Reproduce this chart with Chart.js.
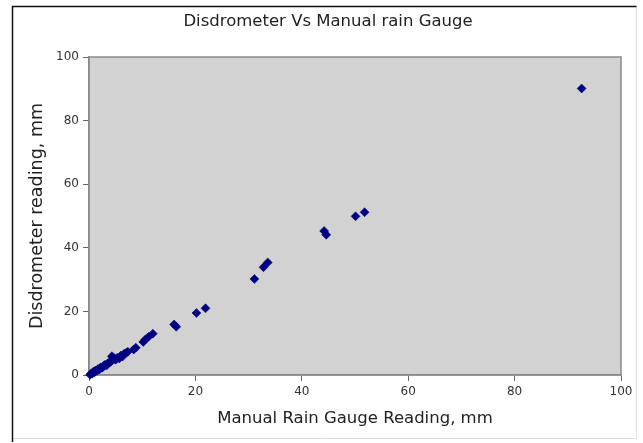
<!DOCTYPE html>
<html>
<head>
<meta charset="utf-8">
<script src="https://cdn.jsdelivr.net/npm/chart.js@4/dist/chart.umd.min.js"></script>
<style>
  html, body { margin: 0; padding: 0; background: #ffffff; }
  #wrap { width: 643px; height: 443px; position: relative; }
</style>
</head>
<body>
<div id="wrap"><canvas id="c" width="643" height="443"></canvas></div>
<script>
// Manual rain gauge readings (mm) and matching disdrometer readings (mm)
const manualGauge = [0.2, 0.4, 0.6, 0.8, 1.0, 1.2, 1.5, 1.7, 2.0, 2.2,
  2.5, 2.8, 3.0, 3.3, 3.6, 3.9, 4.2, 4.3, 4.6, 5.0,
  5.3, 5.7, 6.0, 6.3, 6.6, 7.0, 7.3, 8.4, 8.8, 10.2,
  10.6, 11.2, 12.0, 16.0, 16.4, 20.2, 21.9, 31.1, 32.8, 33.6,
  44.2, 44.6, 50.1, 51.8, 92.6];
const disdrometer = [0.1, 0.5, 0.4, 1.0, 0.8, 1.4, 1.3, 1.9, 1.8, 2.4,
  2.3, 2.9, 3.2, 3.0, 3.8, 4.0, 4.3, 5.9, 5.5, 4.8,
  5.4, 5.2, 6.1, 5.8, 6.7, 7.0, 7.3, 8.0, 8.6, 10.4,
  11.2, 12.0, 13.0, 15.9, 15.2, 19.5, 21.0, 30.2, 33.9, 35.4,
  45.3, 44.1, 49.9, 51.2, 90.1];
const axisTicks = [0, 20, 40, 60, 80, 100];

const chartTitle = 'Disdrometer Vs Manual rain Gauge';
const xTitle = 'Manual Rain Gauge Reading, mm';
const yTitle = 'Disdrometer reading, mm';

const points = manualGauge.map((x, i) => ({ x: x, y: disdrometer[i] }));

const FONT = 'DejaVu Sans';

// Page frame, gray plot background, plot border and the heading
const framePlugin = {
  id: 'frame',
  beforeDraw(chart) {
    const ctx = chart.ctx;
    const a = chart.chartArea;
    ctx.save();
    ctx.fillStyle = '#ffffff';
    ctx.fillRect(0, 0, chart.width, chart.height);
    // outer frame
    ctx.lineWidth = 1;
    ctx.strokeStyle = '#dcdcdc';
    ctx.beginPath();
    ctx.moveTo(636.5, 6.5); ctx.lineTo(636.5, 438.5); ctx.lineTo(12.5, 438.5);
    ctx.stroke();
    ctx.strokeStyle = '#111111';
    ctx.lineWidth = 1.5;
    ctx.beginPath();
    ctx.moveTo(12.5, 442); ctx.lineTo(12.5, 6.5); ctx.lineTo(636.5, 6.5);
    ctx.stroke();
    // plot background
    ctx.fillStyle = '#d2d2d2';
    ctx.fillRect(a.left, a.top, a.right - a.left, a.bottom - a.top);
    ctx.strokeStyle = '#8a8a8a';
    ctx.lineWidth = 1.5;
    ctx.strokeRect(a.left, a.top, a.right - a.left, a.bottom - a.top);
    // heading, centred on the framed page
    ctx.fillStyle = '#222222';
    ctx.font = '16.5px "' + FONT + '"';
    ctx.textAlign = 'center';
    ctx.textBaseline = 'middle';
    ctx.fillText(chartTitle, 328, 22);
    ctx.restore();
  }
};

new Chart(document.getElementById('c'), {
  type: 'scatter',
  data: {
    datasets: [{
      data: points,
      pointStyle: 'rectRot',
      pointRadius: 4.5,
      pointBackgroundColor: '#000080',
      pointBorderColor: '#000080',
      pointBorderWidth: 0.5,
      clip: false
    }]
  },
  options: {
    responsive: false,
    animation: false,
    devicePixelRatio: 1,
    layout: { padding: { left: 12, right: 22, top: 57, bottom: 0 } },
    plugins: {
      legend: { display: false },
      tooltip: { enabled: false },
      title: { display: false }
    },
    scales: {
      x: {
        type: 'linear',
        min: 0, max: 100,
        afterBuildTicks(scale) { scale.ticks = axisTicks.map(v => ({ value: v })); },
        afterFit(scale) { scale.height = 68; scale.paddingRight = 0; scale.paddingLeft = 0; },
        ticks: {
          color: '#333333',
          padding: 4,
          font: { family: FONT, size: 12 }
        },
        grid: { display: true, drawOnChartArea: false, drawTicks: true, tickLength: 6, color: '#666666', lineWidth: 1 },
        border: { display: true, color: '#8a8a8a', width: 1.5 },
        title: {
          display: true,
          text: xTitle,
          color: '#222222',
          font: { family: FONT, size: 16.5 },
          padding: { top: 0, bottom: 14 }
        }
      },
      y: {
        type: 'linear',
        min: 0, max: 100,
        afterBuildTicks(scale) { scale.ticks = axisTicks.map(v => ({ value: v })); },
        afterFit(scale) { scale.width = 77; scale.paddingTop = 0; scale.paddingBottom = 0; },
        ticks: {
          color: '#333333',
          padding: 4,
          font: { family: FONT, size: 12 }
        },
        grid: { display: true, drawOnChartArea: false, drawTicks: true, tickLength: 6, color: '#666666', lineWidth: 1 },
        border: { display: true, color: '#8a8a8a', width: 1.5 },
        title: {
          display: true,
          text: yTitle,
          color: '#222222',
          font: { family: FONT, size: 17.5 },
          padding: { top: 14.5, bottom: 0 }
        }
      }
    }
  },
  plugins: [framePlugin]
});
</script>
</body>
</html>
